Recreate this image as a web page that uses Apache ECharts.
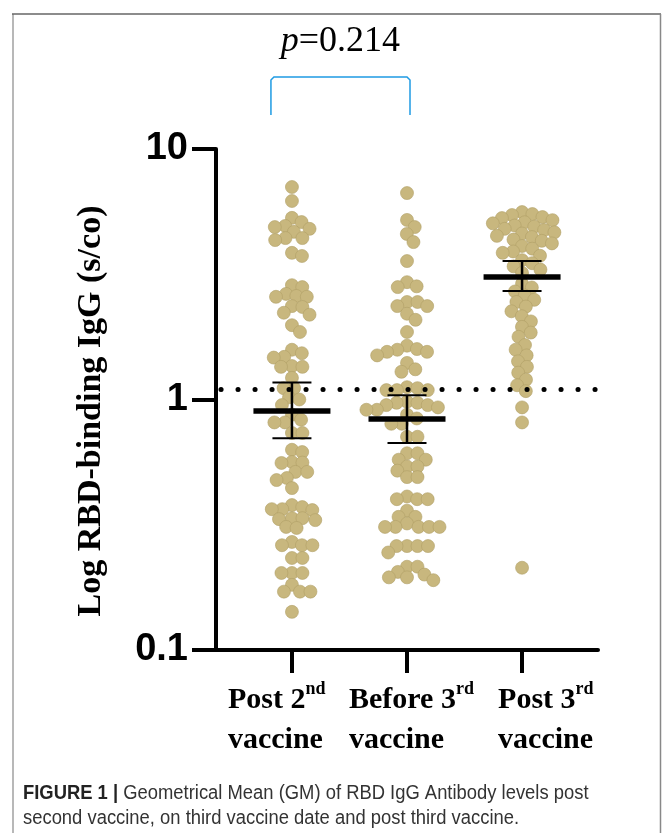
<!DOCTYPE html>
<html><head><meta charset="utf-8">
<script src="https://cdn.jsdelivr.net/npm/echarts@6.0.0/dist/echarts.min.js"></script>
<style>html,body{margin:0;padding:0;background:#fff}#c{width:663px;height:833px}</style>
</head><body><div id="c"></div>
<script>
// ---- data ----
const categories = ['Post 2nd vaccine', 'Before 3rd vaccine', 'Post 3rd vaccine'];
const yTickLabels = ['0.1', '1', '10'];
const post2nd = [7.05, 6.2, 5.31, 5.11, 4.93, 4.88, 4.8, 4.67, 4.41, 4.41, 4.33, 3.85, 3.74,
  2.86, 2.81, 2.64, 2.59, 2.57, 2.57, 2.36, 2.34, 2.22, 2.18, 1.98, 1.86,
  1.58, 1.53, 1.48, 1.47, 1.36, 1.35, 1.35, 1.22, 1.11, 1.11, 1.02, 1.0, 0.95, 0.87,
  0.83, 0.81, 0.81, 0.735, 0.735, 0.63, 0.617, 0.563, 0.56, 0.558, 0.514, 0.514, 0.486,
  0.477, 0.443, 0.379, 0.372, 0.365, 0.365, 0.362, 0.336, 0.336, 0.333, 0.33, 0.31, 0.307,
  0.27, 0.262, 0.262, 0.262, 0.233, 0.233, 0.203, 0.203, 0.203, 0.182, 0.171, 0.171, 0.171, 0.142];
const before3rd = [6.67, 5.21, 4.88, 4.58, 4.25, 3.57, 2.94, 2.83, 2.81, 2.45, 2.45, 2.36, 2.36,
  2.2, 2.08, 1.86, 1.64, 1.59, 1.58, 1.55, 1.55, 1.5, 1.4, 1.32, 1.29, 1.12, 1.11, 1.09, 1.09,
  1.09, 0.98, 0.97, 0.97, 0.95, 0.95, 0.93, 0.91, 0.91, 0.87, 0.84, 0.8, 0.8, 0.71, 0.71,
  0.61, 0.61, 0.575, 0.575, 0.54, 0.54, 0.52, 0.49, 0.49, 0.41, 0.4, 0.4, 0.4, 0.36, 0.34,
  0.34, 0.32, 0.31, 0.31, 0.31, 0.31, 0.31, 0.26, 0.26, 0.26, 0.26, 0.245, 0.215, 0.215,
  0.205, 0.2, 0.19, 0.195, 0.195];
const post3rd = [5.6, 5.5, 5.45, 5.35, 5.3, 5.2, 5.1, 5.05, 4.95, 4.9, 4.8, 4.75, 4.65, 4.6,
  4.5, 4.45, 4.35, 4.3, 4.2, 4.1, 4.0, 3.9, 3.85, 3.75, 3.6, 3.5, 3.4, 3.3, 3.2,
  2.9, 2.8, 2.7, 2.6, 2.5, 2.45, 2.35, 2.25, 2.15, 2.05, 1.95, 1.85, 1.78,
  1.65, 1.58, 1.5, 1.42, 1.35, 1.28, 1.2, 1.14, 1.08, 0.93, 0.81, 0.213];
const gmMean = [0.90, 0.836, 3.08];
const ciLower = [0.70, 0.67, 2.71];
const ciUpper = [1.17, 1.04, 3.57];
const cutoff = 1.1;
const pText = 'p=0.214';
const caption1 = ['FIGURE 1 |', ' Geometrical Mean (GM) of RBD IgG Antibody levels post'];
const caption2 = 'second vaccine, on third vaccine date and post third vaccine.';
const yTitle = 'Log RBD-binding IgG (s/co)';
const xLabels = [['Post 2', 'nd', 'vaccine'], ['Before 3', 'rd', 'vaccine'], ['Post 3', 'rd', 'vaccine']];

// ---- chart ----
const serif = "'Liberation Serif','Times New Roman',serif";
const sans = "'Liberation Sans',Arial,sans-serif";
const dotColor = '#c8b77e';
const chart = echarts.init(document.getElementById('c'), null, {renderer: 'canvas'});

chart.setOption({
  backgroundColor: '#fff',
  animation: false,
  grid: {left: 216, right: 65, top: 149, bottom: 183},
  xAxis: {
    type: 'value', min: 0.34, max: 3.66,
    axisLine: {onZero: false, lineStyle: {color: '#000', width: 4}},
    axisTick: {show: true, customValues: [1, 2, 3], length: 23, lineStyle: {color: '#000', width: 4}},
    axisLabel: {show: false},
    splitLine: {show: false}
  },
  yAxis: {
    type: 'log', logBase: 10, min: 0.1, max: 10,
    axisLine: {show: true, lineStyle: {color: '#000', width: 4}},
    axisTick: {show: true, length: 24, lineStyle: {color: '#000', width: 4}},
    axisLabel: {
      fontFamily: sans, fontWeight: 'bold', fontSize: 38, color: '#000', margin: 28,
      formatter: function (v) {
        const i = Math.round(Math.log10(v)) + 1;
        return yTickLabels[i] !== undefined ? yTickLabels[i] : '';
      }
    },
    splitLine: {show: false}
  },
  series: [
    {type: 'scatter', name: categories[0], data: [], symbolSize: 13, z: 2,
      itemStyle: {color: dotColor, borderColor: '#b09f66', borderWidth: 0.6, opacity: 1}},
    {type: 'scatter', name: categories[1], data: [], symbolSize: 13, z: 2,
      itemStyle: {color: dotColor, borderColor: '#b09f66', borderWidth: 0.6, opacity: 1}},
    {type: 'scatter', name: categories[2], data: [], symbolSize: 13, z: 2,
      itemStyle: {color: dotColor, borderColor: '#b09f66', borderWidth: 0.6, opacity: 1}},
    {type: 'custom', z: 5,
      data: gmMean.map((m, i) => [i + 1, m, ciLower[i], ciUpper[i]]),
      encode: {x: 0, y: 1},
      renderItem: function (params, api) {
        const x = api.value(0), m = api.value(1), lo = api.value(2), hi = api.value(3);
        const pm = api.coord([x, m]), pl = api.coord([x, lo]), ph = api.coord([x, hi]);
        const st = w => ({stroke: '#000', lineWidth: w, fill: null});
        return {type: 'group', children: [
          {type: 'line', shape: {x1: pm[0], y1: pl[1], x2: pm[0], y2: ph[1]}, style: st(2.5)},
          {type: 'line', shape: {x1: pm[0] - 19.5, y1: pl[1], x2: pm[0] + 19.5, y2: pl[1]}, style: st(2)},
          {type: 'line', shape: {x1: pm[0] - 19.5, y1: ph[1], x2: pm[0] + 19.5, y2: ph[1]}, style: st(2)},
          {type: 'line', shape: {x1: pm[0] - 38.5, y1: pm[1], x2: pm[0] + 38.5, y2: pm[1]}, style: st(5.5)}
        ]};
      }
    },
    {type: 'scatter', data: [], z: 6, silent: true,
      markLine: {silent: true, symbol: 'none', label: {show: false},
        lineStyle: {color: '#000', width: 5, type: [0.1, 16.9], cap: 'round', dashOffset: 12},
        data: [{yAxis: cutoff}]}
    }
  ]
});

function swarm(values, cx, D) {
  const p0 = chart.convertToPixel({gridIndex: 0}, [cx, 1]);
  const p1 = chart.convertToPixel({gridIndex: 0}, [cx + 1, 1]);
  const unit = p1[0] - p0[0];
  const pts = values.map(v => ({v: v, y: chart.convertToPixel({gridIndex: 0}, [cx, v])[1], dx: 0}));
  pts.sort((a, b) => a.y - b.y);
  const placed = [];
  for (const p of pts) {
    const cands = [0];
    for (const q of placed) {
      const dy = Math.abs(p.y - q.y);
      if (dy < D) { const dx = Math.sqrt(D * D - dy * dy); cands.push(q.dx + dx, q.dx - dx); }
    }
    cands.sort((a, b) => Math.abs(a) - Math.abs(b));
    for (const c of cands) {
      let ok = true;
      for (const q of placed) {
        const dy = p.y - q.y, dx = c - q.dx;
        if (dx * dx + dy * dy < D * D - 0.01) { ok = false; break; }
      }
      if (ok) { p.dx = c; break; }
    }
    placed.push(p);
  }
  return pts.map(p => [cx + p.dx / unit, p.v]);
}

const c1 = chart.convertToPixel({gridIndex: 0}, [1, 10]);
const c2 = chart.convertToPixel({gridIndex: 0}, [2, 10]);
const c3 = chart.convertToPixel({gridIndex: 0}, [3, 10]);
const catPx = [c1[0], c2[0], c3[0]];
const labelShift = [-64, -58, -24];
const bx1 = catPx[0] - 21, bx2 = catPx[1] + 3, byTop = 77, byBot = 115;

const graphics = [
  {type: 'line', shape: {x1: 13, y1: 14, x2: 13, y2: 833}, style: {stroke: '#b8b8b8', lineWidth: 2}},
  {type: 'line', shape: {x1: 12, y1: 14, x2: 661, y2: 14}, style: {stroke: '#666', lineWidth: 1.5}},
  {type: 'line', shape: {x1: 660.5, y1: 14, x2: 660.5, y2: 833}, style: {stroke: '#888', lineWidth: 1.5}},
  {type: 'polyline', shape: {points: [[bx1, byBot], [bx1, byTop + 3], [bx1 + 3, byTop], [bx2 - 3, byTop], [bx2, byTop + 3], [bx2, byBot]]},
    style: {stroke: '#1f9be3', lineWidth: 1.5, fill: null}},
  {type: 'text', x: (bx1 + bx2) / 2, y: 42, style: {
    text: '{i|p}{r|' + pText.slice(1) + '}', textAlign: 'center', textVerticalAlign: 'middle',
    rich: {i: {fontFamily: serif, fontStyle: 'italic', fontSize: 36, fill: '#000'},
           r: {fontFamily: serif, fontSize: 36, fill: '#000'}}}},
  {type: 'text', x: 91, y: 411, rotation: Math.PI / 2, style: {
    text: yTitle, font: 'bold 34px ' + serif, fill: '#000', textAlign: 'center', textVerticalAlign: 'middle'}},
  {type: 'text', x: 23, y: 793, scaleX: 0.92, style: {
    text: '{b|' + caption1[0] + '}{n|' + caption1[1] + '}', textVerticalAlign: 'middle',
    rich: {b: {fontFamily: sans, fontWeight: 'bold', fontSize: 20, fill: '#222'},
           n: {fontFamily: sans, fontSize: 20, fill: '#333'}}}},
  {type: 'text', x: 23, y: 818, scaleX: 0.92, style: {
    text: caption2, font: '20px ' + sans, fill: '#333', textVerticalAlign: 'middle'}}
];
xLabels.forEach((lab, i) => {
  graphics.push({type: 'text', x: catPx[i] + labelShift[i], y: 680, style: {
    text: '{b|' + lab[0] + '}{s|' + lab[1] + '}\n{b|' + lab[2] + '}',
    textAlign: 'left', textVerticalAlign: 'top',
    rich: {b: {fontFamily: serif, fontWeight: 'bold', fontSize: 30, lineHeight: 40, fill: '#000'},
           s: {fontFamily: serif, fontWeight: 'bold', fontSize: 18, lineHeight: 26, verticalAlign: 'top', fill: '#000'}}}});
});

chart.setOption({
  series: [
    {data: swarm(post2nd, 1, 10.5)},
    {data: swarm(before3rd, 2, 10.5)},
    {data: swarm(post3rd, 3, 10.5)}
  ],
  graphic: graphics
});
</script>
</body></html>
